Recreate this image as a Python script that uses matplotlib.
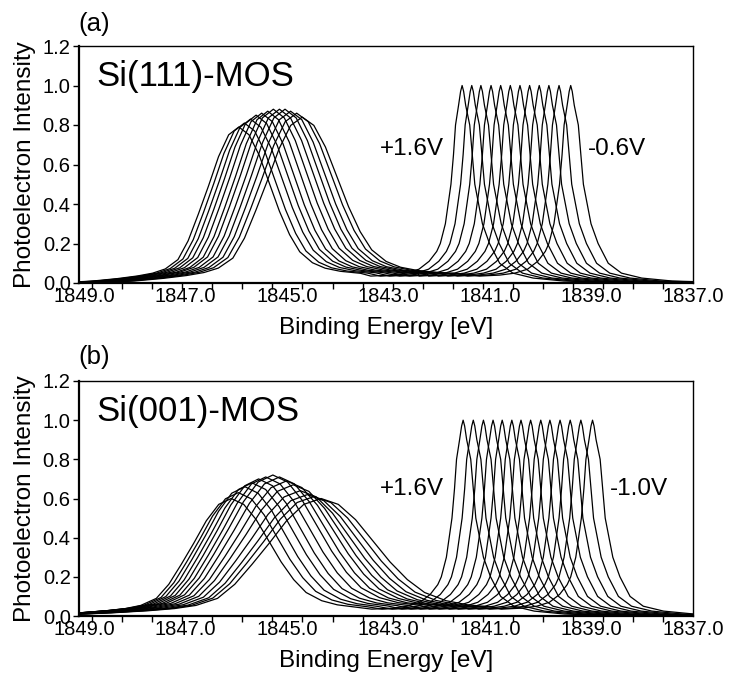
import numpy as np
import matplotlib
matplotlib.use("Agg")
import matplotlib.pyplot as plt

plt.rcParams['font.family'] = ['Liberation Sans', 'DejaVu Sans']

# peak line shapes (offset from peak centre in eV, +ve = lower BE)
broad_offsets = [-4.0, -3.4, -2.9, -2.4, -2.0, -1.7, -1.45, -1.2, -1.0, -0.8, -0.6, -0.4, -0.2, 0.0,
                 0.2, 0.4, 0.6, 0.8, 1.0, 1.2, 1.45, 1.7, 2.0, 2.4, 2.8]
broad_profile = [0.0, 0.004, 0.012, 0.028, 0.045, 0.063, 0.09, 0.15, 0.27, 0.44, 0.62, 0.81, 0.95, 1.0,
                 0.95, 0.82, 0.64, 0.46, 0.31, 0.2, 0.13, 0.095, 0.075, 0.062, 0.055]

narrow_offsets = [-1.8, -1.4, -1.1, -0.85, -0.65, -0.5, -0.43, -0.33, -0.22, -0.17, -0.13, -0.07, -0.03, 0.0,
                  0.03, 0.07, 0.15, 0.25, 0.4, 0.54, 0.74, 1.0, 1.4, 2.0, 3.0, 4.6]
narrow_profile = [0.035, 0.04, 0.05, 0.07, 0.11, 0.16, 0.2, 0.3, 0.5, 0.65, 0.8, 0.9, 0.97, 1.0,
                  0.97, 0.9, 0.8, 0.5, 0.3, 0.2, 0.1, 0.05, 0.025, 0.01, 0.003, 0.0]

# (a) Si(111)-MOS, +1.6V ... -0.6V
narrow_a = [1841.55, 1841.36, 1841.18, 1840.98, 1840.79, 1840.60,
            1840.41, 1840.22, 1840.03, 1839.84, 1839.64, 1839.41]
broad_a = [1845.95, 1845.84, 1845.72, 1845.61, 1845.50, 1845.38,
           1845.27, 1845.15, 1845.04, 1844.93, 1844.81, 1844.70]
height_a = [0.79, 0.81, 0.83, 0.85, 0.86, 0.87, 0.88, 0.88, 0.88, 0.87, 0.86, 0.84]
width_a = [1.0, 1.01, 1.03, 1.04, 1.05, 1.06, 1.08, 1.09, 1.1, 1.11, 1.13, 1.14]

# (b) Si(001)-MOS, +1.6V ... -1.0V
narrow_b = [1841.53, 1841.33, 1841.13, 1840.94, 1840.76, 1840.57, 1840.39,
            1840.20, 1840.00, 1839.82, 1839.62, 1839.42, 1839.21, 1838.98]
broad_b = [1846.10, 1845.96, 1845.83, 1845.69, 1845.56, 1845.42, 1845.28,
           1845.15, 1845.01, 1844.88, 1844.74, 1844.60, 1844.47, 1844.33]
height_b = [0.60, 0.63, 0.66, 0.68, 0.70, 0.71, 0.72, 0.71, 0.69, 0.67, 0.64, 0.62, 0.61, 0.60]
width_b = [1.23, 1.27, 1.30, 1.34, 1.37, 1.41, 1.45, 1.48, 1.52, 1.55, 1.59, 1.62, 1.66, 1.70]

panels = [
    ('(a)', 'Si(111)-MOS', narrow_a, broad_a, height_a, width_a, '+1.6V', '-0.6V'),
    ('(b)', 'Si(001)-MOS', narrow_b, broad_b, height_b, width_b, '+1.6V', '-1.0V'),
]
label_pos_a = {'+1.6V': (1843.17, 0.648), '-0.6V': (1839.07, 0.648)}
label_pos_b = {'+1.6V': (1843.17, 0.618), '-1.0V': (1838.63, 0.618)}

fig = plt.figure(figsize=(7.3, 6.74), dpi=100)
axes_rects = [[79/730, 1 - 283/674, 614/730, 237/674],
              [79/730, 1 - 616/674, 614/730, 235/674]]
tag_y = [1 - 31/674, 1 - 364/674]

bo = np.array(broad_offsets)
bp = np.array(broad_profile)
no = np.array(narrow_offsets)
npf = np.array(narrow_profile)

for i, (tag, name, nc, bc, bh, bw, lab_l, lab_r) in enumerate(panels):
    ax = fig.add_axes(axes_rects[i])
    for c_n, c_b, h, w in zip(nc, bc, bh, bw):
        xn = c_n - no
        yn = npf
        xb = c_b - bo * w
        yb = h * bp
        keep = xb > xn.max()   # broad tail stops where the narrow peak starts
        x = np.concatenate([xb[keep], xn])
        y = np.concatenate([yb[keep], yn])
        ax.plot(x, y, color='black', lw=0.9)

    ax.set_xlim(1849.1, 1837.0)
    ax.set_ylim(0, 1.2)
    xt = np.arange(1849.0, 1836.9, -2.0)
    ax.set_xticks(xt)
    ax.set_xticklabels(['%.1f' % v for v in xt])
    ax.set_xticks(np.arange(1837.0 + 0.592, 1849.0, 0.592), minor=True)
    ax.tick_params(axis='x', which='major', length=0, pad=3, labelsize=14.5)
    ax.tick_params(axis='x', which='minor', length=4, width=1, direction='out')
    yt = np.arange(0, 1.21, 0.2)
    ax.set_yticks(yt)
    ax.set_yticklabels(['%.1f' % v for v in yt])
    ax.tick_params(axis='y', length=4, width=1, direction='out', pad=2, labelsize=14.5)
    for s in ax.spines.values():
        s.set_linewidth(1.0)
    ax.spines['bottom'].set_linewidth(1.6)
    ax.spines['left'].set_linewidth(1.6)

    ax.set_xlabel('Binding Energy [eV]', fontsize=17.5, labelpad=8)
    ax.set_ylabel('Photoelectron Intensity', fontsize=17.5, labelpad=5)
    ax.text(0.029, 0.831, name, transform=ax.transAxes, fontsize=25, va='baseline')

    lp = label_pos_a if i == 0 else label_pos_b
    ax.text(lp[lab_l][0], lp[lab_l][1], lab_l, fontsize=17.5, va='baseline')
    ax.text(lp[lab_r][0], lp[lab_r][1], lab_r, fontsize=17.5, va='baseline')

    fig.text(78/730, tag_y[i], tag, fontsize=18.5, va='baseline')

fig.savefig('out.png', dpi=100)
